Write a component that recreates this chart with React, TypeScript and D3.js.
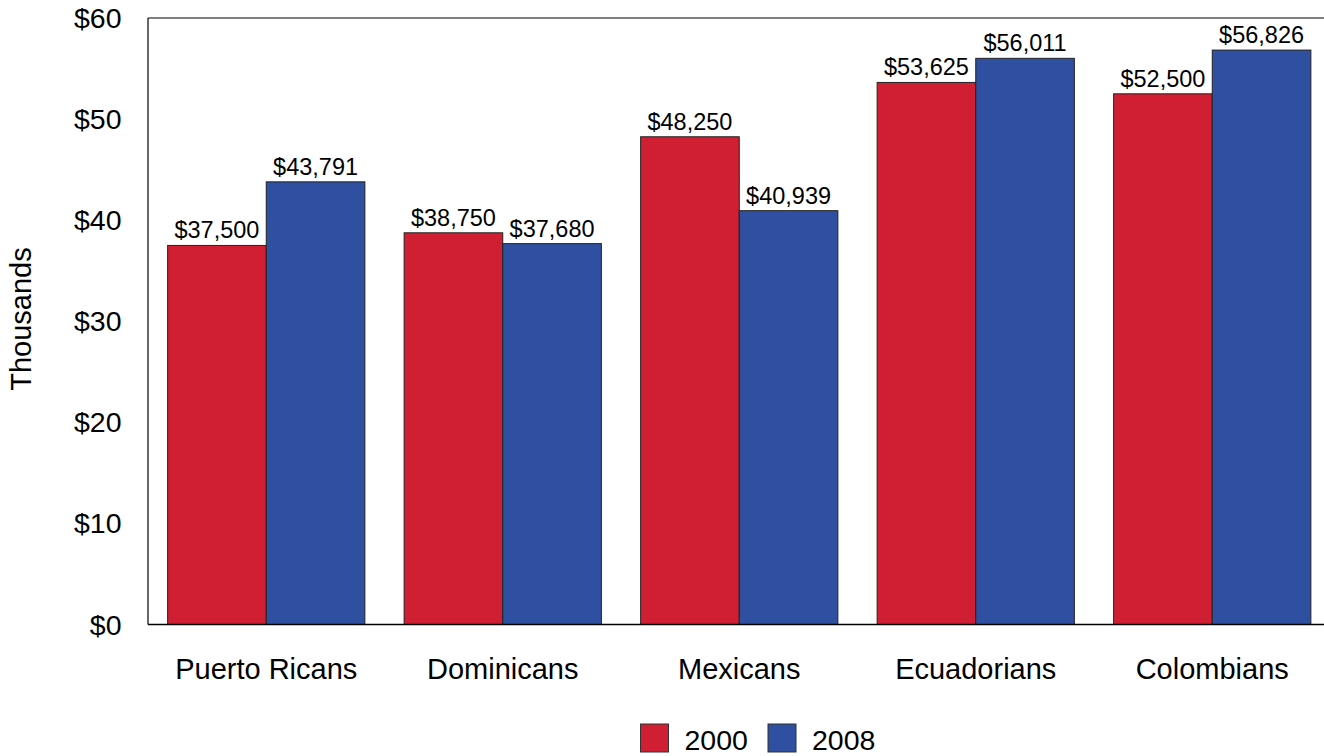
import React from "react";
import * as d3 from "d3";

const categories = ["Puerto Ricans", "Dominicans", "Mexicans", "Ecuadorians", "Colombians"];
const seriesNames = ["2000", "2008"];
const values2000 = [37500, 38750, 48250, 53625, 52500];
const values2008 = [43791, 37680, 40939, 56011, 56826];
const yTicks = [0, 10, 20, 30, 40, 50, 60];
const colors = ["#D01F33", "#2F4FA0"];

const W = 1324, H = 756;
const left = 148, top = 18, bottom = 624.5, right = 1330.5;

export default function App() {
  const x0 = d3.scaleBand().domain(categories).range([left, right]).paddingInner(0.166).paddingOuter(0.083);
  const x1 = d3.scaleBand().domain(seriesNames).range([0, x0.bandwidth()]);
  const y = d3.scaleLinear().domain([0, 60]).range([bottom, top]);
  const series = [values2000, values2008];
  const fmt = d3.format(",");
  const font = "'Liberation Sans', Arial, sans-serif";

  return (
    <svg width={W} height={H} style={{ position: "absolute", left: 0, top: 0, fontFamily: font }}>
      <rect x={0} y={0} width={W} height={H} fill="#fff" />
      {categories.map((c, i) =>
        series.map((vals, s) => {
          const bx = (x0(c) as number) + (x1(seriesNames[s]) as number);
          const by = y(vals[i] / 1000);
          return (
            <g key={c + s}>
              <rect x={bx} y={by} width={x1.bandwidth()} height={bottom - by} fill={colors[s]} stroke="#222" strokeWidth={1} />
              <text x={bx + x1.bandwidth() / 2} y={by - 7} textAnchor="middle" fontSize={23.5} fill="#000">
                {"$" + fmt(vals[i])}
              </text>
            </g>
          );
        })
      )}
      <line x1={left} x2={W} y1={top} y2={top} stroke="#000" strokeWidth={1.2} />
      <line x1={left} x2={left} y1={top} y2={bottom} stroke="#000" strokeWidth={1.2} />
      <line x1={left} x2={W} y1={bottom} y2={bottom} stroke="#000" strokeWidth={1.5} />
      {yTicks.map((t) => (
        <text key={t} x={121.5} y={y(t) + 10} textAnchor="end" fontSize={28.5} fill="#000">
          {"$" + t}
        </text>
      ))}
      {categories.map((c) => (
        <text key={c} x={(x0(c) as number) + x0.bandwidth() / 2} y={679} textAnchor="middle" fontSize={29} fill="#000">
          {c}
        </text>
      ))}
      <text transform={`translate(31,319) rotate(-90)`} textAnchor="middle" fontSize={29} fill="#000">
        Thousands
      </text>
      {seriesNames.map((s, i) => {
        const lx = 640.5 + i * 127.5;
        return (
          <g key={s}>
            <rect x={lx} y={724} width={28} height={28} fill={colors[i]} stroke="#333" strokeWidth={1} />
            <text x={lx + 44} y={750} fontSize={28.5} fill="#000">{s}</text>
          </g>
        );
      })}
    </svg>
  );
}
